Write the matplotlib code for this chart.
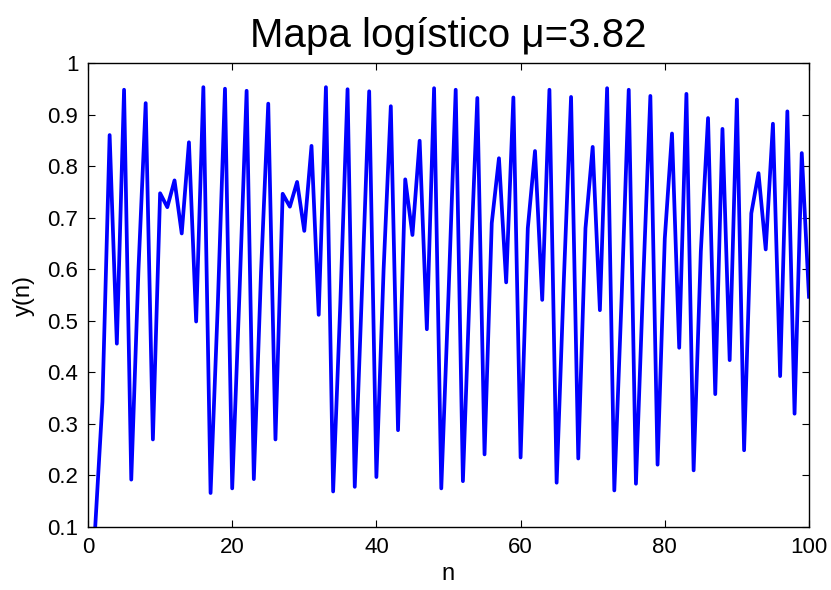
import matplotlib
matplotlib.use("Agg")
import matplotlib.pyplot as plt

# values, n = 1..100
n_vals = list(range(1, 101))
y_vals = [
    0.100, 0.343, 0.861, 0.456, 0.949, 0.192, 0.600, 0.923, 0.270, 0.748,
    0.721, 0.773, 0.670, 0.847, 0.499, 0.954, 0.166, 0.530, 0.951, 0.175,
    0.550, 0.947, 0.193, 0.595, 0.922, 0.270, 0.747, 0.722, 0.770, 0.675,
    0.840, 0.512, 0.954, 0.169, 0.535, 0.950, 0.178, 0.560, 0.946, 0.197,
    0.600, 0.917, 0.288, 0.775, 0.667, 0.850, 0.484, 0.952, 0.175, 0.550,
    0.949, 0.189, 0.585, 0.933, 0.241, 0.690, 0.816, 0.575, 0.934, 0.235,
    0.680, 0.830, 0.541, 0.949, 0.186, 0.580, 0.935, 0.233, 0.680, 0.838,
    0.521, 0.952, 0.171, 0.540, 0.949, 0.184, 0.575, 0.937, 0.221, 0.660,
    0.864, 0.448, 0.941, 0.210, 0.635, 0.894, 0.358, 0.873, 0.424, 0.930,
    0.249, 0.709, 0.787, 0.639, 0.883, 0.393, 0.907, 0.320, 0.826, 0.547,
]
x_ticks = [0, 20, 40, 60, 80, 100]
y_ticks = [0.1, 0.2, 0.3, 0.4, 0.5, 0.6, 0.7, 0.8, 0.9, 1.0]
y_labels = ['0.1', '0.2', '0.3', '0.4', '0.5', '0.6', '0.7', '0.8', '0.9', '1']

plt.rcParams['font.family'] = ['Liberation Sans', 'DejaVu Sans']

fig = plt.figure(figsize=(8.31, 5.90), dpi=100)
ax = fig.add_axes([0.1059, 0.1068, 0.8676, 0.7856])

ax.plot(n_vals, y_vals, color='#0000ff', linewidth=2.7, solid_joinstyle='round')

ax.set_xlim(0, 100)
ax.set_ylim(0.1, 1.0)
ax.set_xticks(x_ticks)
ax.set_yticks(y_ticks)
ax.set_yticklabels(y_labels)
ax.tick_params(direction='in', length=5, width=0.8, labelsize=16, pad=7,
               top=True, right=True)
for s in ax.spines.values():
    s.set_linewidth(1.0)

ax.set_title('Mapa logístico μ=3.82', fontsize=29, pad=12)
ax.set_xlabel('n', fontsize=17, labelpad=4)
ax.set_ylabel('y(n)', fontsize=17, labelpad=9)

plt.savefig('out.png', dpi=100)
